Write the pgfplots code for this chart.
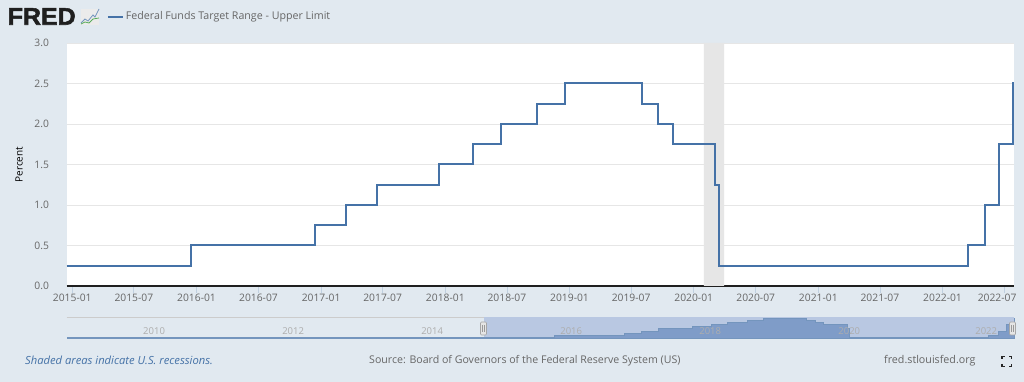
\documentclass[border=0pt]{standalone}
\usepackage{fontspec}
\usepackage{pgfplots}
\pgfplotsset{compat=1.18}
\setmainfont{Open Sans}
\newfontfamily\logofont[FakeBold=2.2,FakeStretch=1.04]{Liberation Sans Bold}
\definecolor{bg}{HTML}{E1E9F0}
\definecolor{fredblue}{HTML}{4572A7}
\definecolor{txt}{HTML}{666666}
\definecolor{gridc}{HTML}{E6E6E6}
\definecolor{tickc}{HTML}{C0D0E0}
\definecolor{band}{HTML}{B9C8E2}
\definecolor{navfill}{HTML}{7F9CC8}
\begin{document}
\begin{tikzpicture}[x=1pt,y=1pt]
\path[use as bounding box] (0,0) rectangle (1024,382);
\fill[bg] (0,0) rectangle (1024,382);
% main chart
\begin{axis}[
  at={(66.5pt,96pt)},anchor=south west,
  scale only axis,width=947.5pt,height=243pt,
  xmin=-17,xmax=2767,ymin=0,ymax=3,
  axis background/.style={fill=white},
  axis x line*=bottom, axis y line*=left,
  x axis line style={-,draw=black!88,line width=1.8pt},
  y axis line style={draw=none},
  ytick={0,0.5,1,1.5,2,2.5,3},
  yticklabels={0.0,0.5,1.0,1.5,2.0,2.5,3.0},
  ymajorgrids, grid style={gridc,line width=0.8pt},
  ytick style={draw=none},
  xtick={0,181,365,547,731,912,1096,1277,1461,1642,1826,2008,2192,2373,2557,2738},
  xticklabels={2015-01,2015-07,2016-01,2016-07,2017-01,2017-07,2018-01,2018-07,2019-01,2019-07,2020-01,2020-07,2021-01,2021-07,2022-01,2022-07\hspace*{14pt}},
  x tick style={tickc,line width=0.8pt},
  major tick length=7pt,
  tick align=outside,
  /pgf/number format/assume math mode=true,
  tick label style={font=\fontsize{10.3}{12}\selectfont,text=txt},
  xticklabel style={yshift=2pt},
  yticklabel style={xshift=-7pt},
  ylabel={Percent},
  ylabel style={font=\fontsize{10.3}{12}\selectfont,text=txt},
  every axis y label/.style={at={(axis description cs:-0.0500,0.5)},rotate=90,anchor=center},
  legend style={at={(axis description cs:0.0425,1.109)},anchor=west,draw=none,fill=none,
    font=\fontsize{10.65}{13}\selectfont,text=txt,inner sep=0pt,
    legend cell align=left},
  legend image code/.code={\draw[fredblue,line width=2pt] (0pt,0pt) -- (15pt,0pt);},
]
\addplot[fill=gridc,draw=none,forget plot] coordinates {(1856,0) (1856,3) (1915,3) (1915,0)} \closedcycle;
\addplot[const plot,fredblue,line width=2pt] table {
x y
-17 0.25
350 0.5
714 0.75
805 1.0
896 1.25
1078 1.5
1176 1.75
1260 2.0
1365 2.25
1449 2.5
1673 2.25
1722 2.0
1764 1.75
1889 1.25
1901 0.25
2632 0.5
2681 1.0
2723 1.75
2765 2.5
2767 2.5
};
\addlegendentry{Federal Funds Target Range - Upper Limit}
\end{axis}
% navigator
\begin{axis}[
  at={(66.5pt,43pt)},anchor=south west,
  scale only axis,width=947.5pt,height=22pt,
  xmin=2008.94,xmax=2022.57,ymin=0.08,ymax=2.62,
  axis x line*=top, axis y line=none,
  x axis line style={-,draw=black!20,line width=0.8pt},
  xtick=\empty,ytick=\empty,
  clip=false,
]
\addplot[fill=band,draw=none] coordinates {(2014.95,0.08) (2014.95,2.62) (2022.57,2.62) (2022.57,0.08)} -- cycle;
\addplot[const plot,fill=navfill,draw=fredblue!75,line width=1pt] table {
x y
2008.96 0.25
2015.96 0.5
2016.96 0.75
2017.21 1.0
2017.45 1.25
2017.95 1.5
2018.22 1.75
2018.45 2.0
2018.74 2.25
2018.97 2.5
2019.58 2.25
2019.71 2.0
2019.83 1.75
2020.17 1.25
2020.21 0.25
2022.21 0.5
2022.34 1.0
2022.46 1.75
2022.57 2.5
} \closedcycle;
\foreach \y/\xx in {2010/2010.2,2012/2012.2,2014/2014.2,2016/2016.2,2018/2018.2,2020/2020.2,2022/2022.17}{
  \edef\tmp{\noexpand\node[font=\noexpand\fontsize{9.5}{11}\noexpand\selectfont,text=black!32,anchor=center] at (axis cs:\xx,0.95) {\y};}\tmp
}
\end{axis}
% handles
\foreach \hx in {483.5,1012.5}{
  \draw[black!35,fill=white!90!black,rounded corners=1pt,line width=0.6pt] (\hx-3,382-335) rectangle (\hx+3,382-322);
  \draw[black!40,line width=0.4pt] (\hx-1,382-325) -- (\hx-1,382-332) (\hx+1,382-325) -- (\hx+1,382-332);
}
% logo
\node[anchor=west,inner sep=0pt,font=\logofont\fontsize{24}{24}\selectfont,text=black!88] at (7.5,365.5) {FRED};
\fill[black!8] (81,357) rectangle (99,373);
\draw[fredblue!75,line width=0.8pt] (81,359) -- (85,363) -- (88,361) -- (93,367) -- (95,365) -- (99,373);
\draw[green!50!black!65,line width=0.8pt] (81,358) -- (85,360) -- (89,359) -- (93,363) -- (99,364);
% footer
\node[anchor=west,inner sep=0pt,font=\itshape\fontsize{11.2}{12}\selectfont,text=fredblue] at (25,21.5) {Shaded areas indicate U.S. recessions.};
\node[anchor=west,inner sep=0pt,font=\fontsize{10.6}{12}\selectfont,text=txt] at (369,21.5) {Source: Board of Governors of the Federal Reserve System (US)};
\node[anchor=west,inner sep=0pt,font=\fontsize{10.7}{12}\selectfont,text=txt] at (884,21.5) {fred.stlouisfed.org};
% fullscreen icon
\draw[black!85,line width=1.1pt]
 (1002,18) -- (1002,15.5) -- (1004.5,15.5)
 (1009,15.5) -- (1011.5,15.5) -- (1011.5,18)
 (1002,23) -- (1002,25.5) -- (1004.5,25.5)
 (1009,25.5) -- (1011.5,25.5) -- (1011.5,23);
\end{tikzpicture}
\end{document}
